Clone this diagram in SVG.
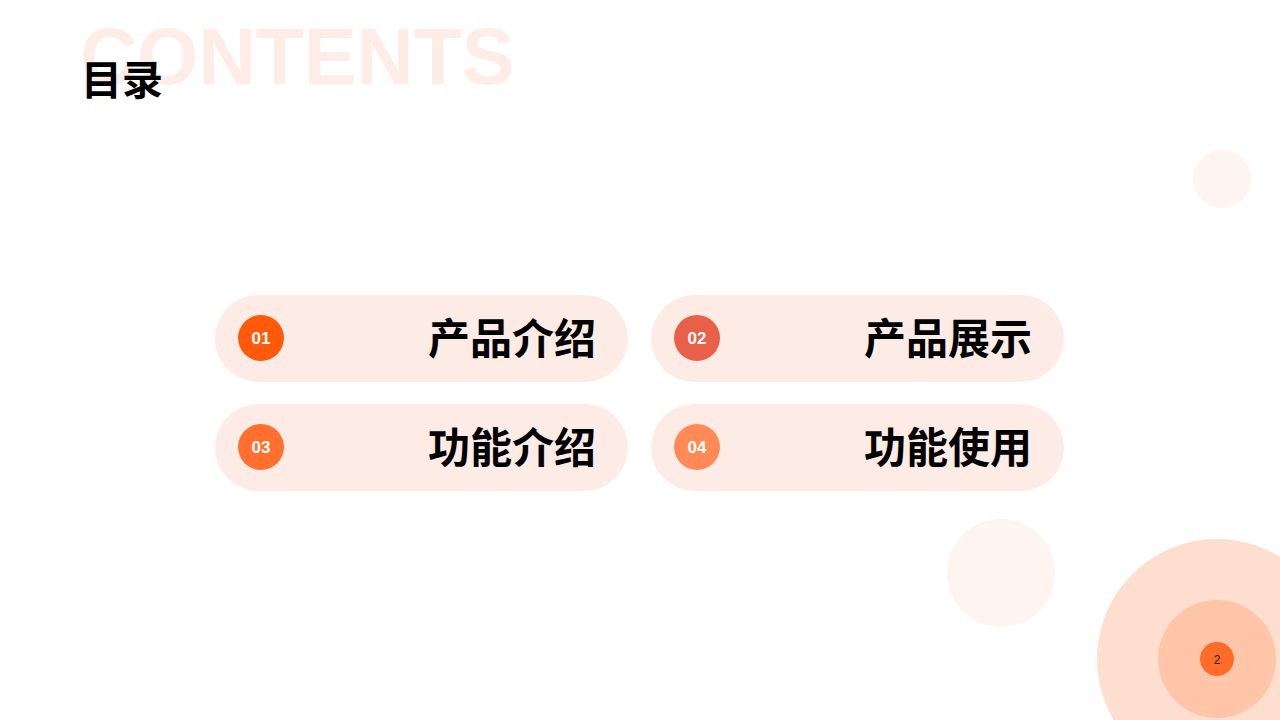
<svg xmlns="http://www.w3.org/2000/svg" width="1280" height="720" viewBox="0 0 1280 720">
<style>
.pill{fill:#fdece6}
.num{font-family:"Liberation Sans",Arial,sans-serif;font-weight:bold;font-size:17px;fill:#fff;text-anchor:middle}
.lbl{font-family:"Noto Sans CJK SC",sans-serif;font-weight:bold;font-size:42px;fill:#000;text-anchor:end}
</style>
<rect width="1280" height="720" fill="#fff"/>
<text x="80" y="84" font-family="Liberation Sans,Arial,sans-serif" font-weight="bold" font-size="79" fill="#feede6">CONTENTS</text>
<text x="81" y="95" font-family="Noto Sans CJK SC,sans-serif" font-weight="bold" font-size="41" fill="#000">目录</text>
<circle cx="1222" cy="179" r="29" fill="#fef4f0"/>
<circle cx="1001" cy="573" r="54" fill="#fef4f0"/>
<circle cx="1217" cy="659" r="120" fill="#fedecf"/>
<circle cx="1217" cy="659" r="59" fill="#fec5a8"/>
<circle cx="1217" cy="659" r="17" fill="#ff6b28"/>
<text x="1217" y="664" font-family="Liberation Sans,Arial,sans-serif" font-size="12" fill="#222" text-anchor="middle">2</text>
<g id="item1"><rect class="pill" x="215" y="295" width="413" height="87" rx="43.5"/><circle cx="261" cy="338" r="23" fill="#ff5a0a"/><text class="num" x="261" y="344">01</text><text class="lbl" x="596" y="354">产品介绍</text></g>
<g id="item2"><rect class="pill" x="651" y="295" width="413" height="87" rx="43.5"/><circle cx="697" cy="338" r="23" fill="#e9604a"/><text class="num" x="697" y="344">02</text><text class="lbl" x="1032" y="354">产品展示</text></g>
<g id="item3"><rect class="pill" x="215" y="404" width="413" height="87" rx="43.5"/><circle cx="261" cy="447" r="23" fill="#ff6f2d"/><text class="num" x="261" y="453">03</text><text class="lbl" x="596" y="463">功能介绍</text></g>
<g id="item4"><rect class="pill" x="651" y="404" width="413" height="87" rx="43.5"/><circle cx="697" cy="447" r="23" fill="#ff8a55"/><text class="num" x="697" y="453">04</text><text class="lbl" x="1032" y="463">功能使用</text></g>
<g id="connectors"/>
</svg>
